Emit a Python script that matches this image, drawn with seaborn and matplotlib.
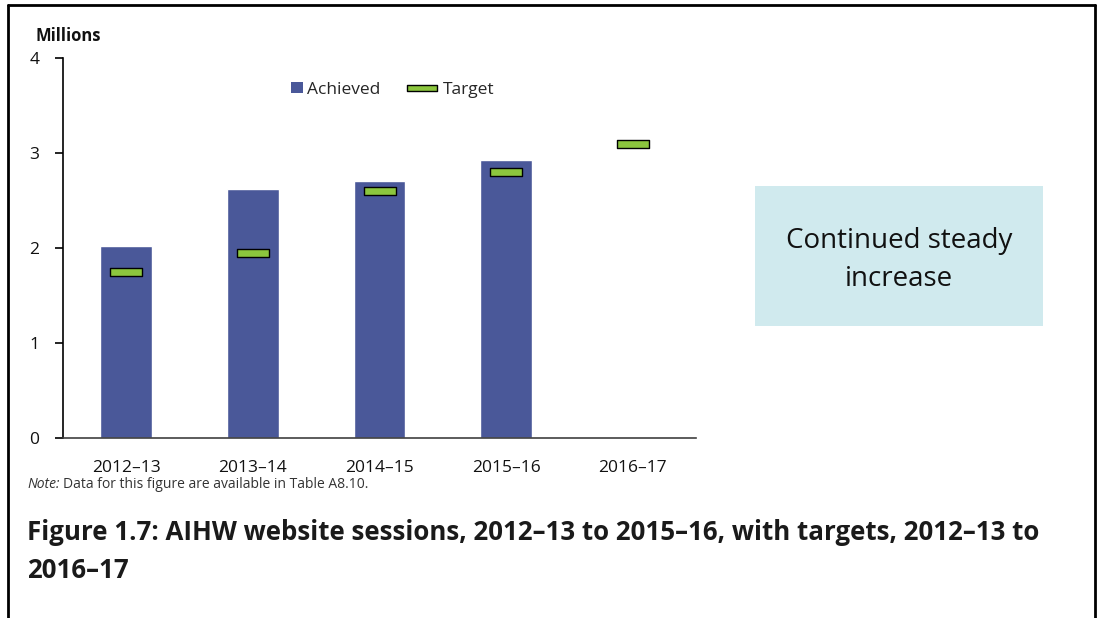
import matplotlib
matplotlib.use("Agg")
import matplotlib.pyplot as plt
import seaborn as sns
import pandas as pd
import numpy as np
from matplotlib.path import Path
from matplotlib.lines import Line2D
from matplotlib.patches import Rectangle

sns.set_theme(style="white")
plt.rcParams['font.family'] = ['Open Sans', 'DejaVu Sans']

years = ["2012–13", "2013–14", "2014–15", "2015–16", "2016–17"]
achieved = [2.02, 2.62, 2.71, 2.93, np.nan]
target = [1.75, 1.95, 2.60, 2.80, 3.10]

df = pd.DataFrame({"year": years, "Achieved": achieved, "Target": target})

fig = plt.figure(figsize=(11.03, 6.18), dpi=100)
ax = fig.add_axes([63/1103, 1-438/618, 633/1103, 380/618])

bar_color = "#4A5899"
green = "#8CC63E"

sns.barplot(data=df, x="year", y="Achieved", color=bar_color, width=0.41,
            saturation=1, ax=ax, label="Achieved")

rect = Path([(-2.3, -0.5), (2.3, -0.5), (2.3, 0.5), (-2.3, 0.5), (-2.3, -0.5)],
            [Path.MOVETO, Path.LINETO, Path.LINETO, Path.LINETO, Path.CLOSEPOLY])
sns.scatterplot(data=df, x="year", y="Target", marker=rect, s=560, color=green,
                edgecolor="black", linewidth=1.0, ax=ax, legend=False, zorder=5)

ax.set_xlim(-0.5, 4.5)
ax.set_ylim(0, 4)
ax.set_yticks([0, 1, 2, 3, 4])
ax.set_xlabel("")
ax.set_ylabel("")
for s in ["top", "right"]:
    ax.spines[s].set_visible(False)
ax.spines["left"].set_color("black")
ax.spines["left"].set_linewidth(1.2)
ax.spines["bottom"].set_color("#404040")
ax.spines["bottom"].set_linewidth(1.2)
ax.tick_params(axis="y", which="major", left=True, length=6, width=1.2, color="black",
               labelsize=12.5, pad=11, direction="out")
ax.tick_params(axis="x", bottom=False, labelsize=12.5, pad=10)
for t in ax.get_xticklabels() + ax.get_yticklabels():
    t.set_color("#111111")

handles = [Rectangle((0, 0), 1, 1, facecolor=bar_color, edgecolor="none"),
           Line2D([], [], marker=rect, markersize=22, linestyle="none",
                  markerfacecolor=green, markeredgecolor="black", markeredgewidth=1.0)]
leg = ax.legend(handles, ["Achieved", "Target"], loc="center",
                bbox_to_anchor=(0.503, 0.916), ncol=2, frameon=False, fontsize=12.5,
                handlelength=2.0, handleheight=0.8, handletextpad=0.2, columnspacing=1.4)
h0 = leg.legend_handles[0]
h0.set_width(8)
h0.set_height(8)
h0.set_x(h0.get_x() + 16.5)
h0.set_y(h0.get_y() + 1)

fig.text(35/1103, 1-36/618, "Millions", fontsize=12, fontweight="bold", va="center", ha="left",
         color="#111111")

# annotation box
fig.patches.append(Rectangle((755/1103, 1-326/618), 288/1103, 140/618,
                             transform=fig.transFigure, facecolor="#D0EAEE", edgecolor="none"))
fig.text(899/1103, 1-260/618, "Continued steady\nincrease", fontsize=20, ha="center",
         va="center", color="#111111", linespacing=1.45)

# note
fig.text(27/1103, 1-484/618, "Note:", fontsize=10, fontstyle="italic", va="center",
         ha="left", color="#333333")
fig.text(63/1103, 1-484/618, "Data for this figure are available in Table A8.10.", fontsize=10,
         va="center", ha="left", color="#333333")

fig.text(27/1103, 1-532/618, "Figure 1.7: AIHW website sessions, 2012–13 to 2015–16, with targets, 2012–13 to",
         fontsize=18.6, fontweight="bold", va="center", ha="left", color="#1a1a1a")
fig.text(27/1103, 1-570/618, "2016–17", fontsize=18.6, fontweight="bold", va="center",
         ha="left", color="#1a1a1a")

# frame
fig.add_artist(Line2D([8/1103, 8/1103], [0, 1-5/618], transform=fig.transFigure, color="black", lw=2))
fig.add_artist(Line2D([8/1103, 1095/1103], [1-5/618, 1-5/618], transform=fig.transFigure, color="black", lw=2))
fig.add_artist(Line2D([1095/1103, 1095/1103], [0, 1-5/618], transform=fig.transFigure, color="black", lw=2))

fig.savefig("out.png", dpi=100)
